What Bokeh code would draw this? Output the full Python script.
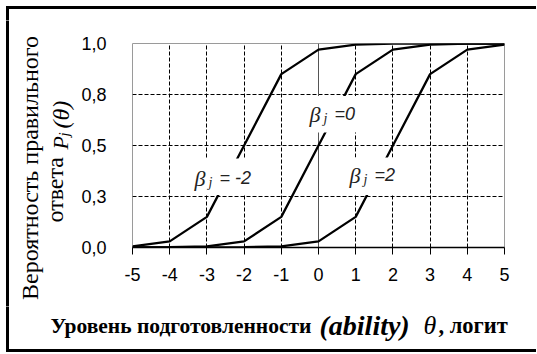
import math
from bokeh.plotting import figure
from bokeh.models import FixedTicker, Span, BoxAnnotation, Label, Range1d
from bokeh.layouts import column, row
from bokeh.embed import file_html
from bokeh.resources import INLINE

# ---- data ----
theta = [-5, -4, -3, -2, -1, 0, 1, 2, 3, 4, 5]
p_beta_m2 = [0.006, 0.03, 0.15, 0.50, 0.85, 0.97, 0.994, 0.999, 1.0, 1.0, 1.0]
p_beta_0 = [0.001, 0.002, 0.006, 0.03, 0.15, 0.50, 0.85, 0.97, 0.994, 0.999, 1.0]
p_beta_2 = [0.0, 0.0, 0.001, 0.002, 0.006, 0.03, 0.15, 0.50, 0.85, 0.97, 0.994]
x_ticks = [-5, -4, -3, -2, -1, 0, 1, 2, 3, 4, 5]
x_tick_labels = ["-5", "-4", "-3", "-2", "-1", "0", "1", "2", "3", "4", "5"]
y_ticks = [0.0, 0.25, 0.5, 0.75, 1.0]
y_tick_labels = ["0,0", "0,3", "0,5", "0,8", "1,0"]

# ---- layout (picture pixels; layout root sits at picture (1, 1)) ----
RX, RY = 1, 1
W = 536
HT = 20            # top strip
HM = 286           # middle row
HB = 46            # bottom strip
LW = 76            # left strip width
FL, FR, FT, FB = 133.0, 505.0, 44.0, 248.0   # plot frame in picture pixels

MX, MY = RX + LW, RY + HT          # main figure origin
BY = RY + HT + HM                  # bottom strip origin (y)

def dx(px):
    return -5 + (px - FL) / (FR - FL) * 10
def dy(py):
    return (FB - py) / (FB - FT)

def strip(w, h):
    f = figure(width=w, height=h, x_range=Range1d(0, w), y_range=Range1d(h, 0),
               x_axis_type=None, y_axis_type=None, output_backend="svg",
               toolbar_location=None, min_border=0, frame_align=False)
    f.outline_line_color = None
    f.background_fill_color = "white"
    f.border_fill_color = "white"
    return f

def rect(f, l, r, t, b):
    f.add_layout(BoxAnnotation(left=l, right=r, top=t, bottom=b, fill_color="black",
                               fill_alpha=1.0, line_color=None))

def lab(f, x, y, text, font, size, style="normal", angle=0.0, align="left", color="black"):
    f.add_layout(Label(x=x, y=y, text=text, text_font=font,
                       text_font_size=f"{size}px", text_font_style=style,
                       text_align=align, text_baseline="alphabetic",
                       angle=angle, text_color=color))

BL, BR = 6.5, 9.5   # outer border, picture x

# ---- main chart ----
WM = W - LW
p = figure(width=WM, height=HM, x_range=Range1d(-5, 5), y_range=Range1d(0, 1),
           output_backend="svg", toolbar_location=None, frame_align=False,
           min_border_left=int(FL - MX), min_border_right=int(WM - (FR - MX)),
           min_border_top=int(FT - MY), min_border_bottom=int(HM - (FB - MY)))
p.background_fill_color = "white"
p.border_fill_color = "white"
p.outline_line_color = "#9a9a9a"
p.outline_line_width = 1

xa = p.xaxis[0]
xa.ticker = FixedTicker(ticks=x_ticks)
xa.major_label_overrides = {t: s for t, s in zip(x_ticks, x_tick_labels)}
xa.major_tick_in = 0
xa.major_tick_out = 7
xa.minor_tick_out = 0
xa.minor_tick_in = 0
xa.axis_line_width = 1.5
xa.axis_line_color = "black"
xa.major_tick_line_color = "black"
xa.major_label_text_font = "Liberation Sans"
xa.major_label_text_font_size = "18px"
xa.major_label_text_color = "black"
xa.major_label_standoff = 13

ya = p.yaxis[0]
ya.ticker = FixedTicker(ticks=y_ticks)
ya.major_label_overrides = {t: s for t, s in zip(y_ticks, y_tick_labels)}
ya.axis_line_color = None
ya.major_tick_line_color = None
ya.minor_tick_line_color = None
ya.major_tick_out = 0
ya.major_tick_in = 0
ya.major_label_text_font = "Liberation Sans"
ya.major_label_text_font_size = "18px"
ya.major_label_text_color = "black"
ya.major_label_standoff = 26

p.xgrid.ticker = FixedTicker(ticks=x_ticks[1:-1])
p.ygrid.ticker = FixedTicker(ticks=y_ticks[1:-1])
for g in (p.xgrid[0], p.ygrid[0]):
    g.grid_line_color = "black"
    g.grid_line_dash = "4 2"
    g.grid_line_width = 1

p.add_layout(Span(location=0, dimension="height", line_color="#555555",
                  line_width=1, level="underlay"))

for ys in (p_beta_m2, p_beta_0, p_beta_2):
    p.line(theta, ys, line_color="black", line_width=2.3)

# white boxes behind the curve labels (picture pixels)
boxes = [(190, 262, 159, 195.5), (305, 368, 96.5, 133), (345, 408, 158, 195.5)]
for l, r, t, b in boxes:
    p.add_layout(BoxAnnotation(left=dx(l), right=dx(r), top=dy(t), bottom=dy(b),
                               fill_color="white", fill_alpha=1.0, line_color=None))

for bx, by, rest in ((195, 179, "= -2"), (310, 115, "=0"), (350, 176, "=2")):
    lab(p, dx(bx), dy(by), "β", "Liberation Serif", 22, "italic", color="#222222")
    lab(p, dx(bx + 14), dy(by + 4), "j", "Liberation Serif", 14, "italic", color="#222222")
    lab(p, dx(bx + 25), dy(by - 1), rest, "Liberation Sans", 18, "italic", color="#222222")

# ---- top strip (outer border) ----
top = strip(W, HT)
rect(top, BL - RX, W + 5, 6.5 - RY, 9.5 - RY)
rect(top, BL - RX, BR - RX, 6.5 - RY, HT + 1)

# ---- left strip (y title) ----
left = strip(LW, HM)
rect(left, BL - RX, BR - RX, -1, HM + 1)
half = math.pi / 2
def llab(px, py, *a, **k):
    lab(left, px - RX, py - MY, *a, **k)
llab(30, 168.5, "Вероятность правильного", "Liberation Serif", 24, "normal",
     angle=half, align="center")
llab(55, 223, "ответа", "Liberation Serif", 24, "normal", angle=half)
llab(61, 150, "P", "Liberation Serif", 22, "italic", angle=half)
llab(64, 137, "j", "Liberation Serif", 15, "italic", angle=half)
llab(61, 129, "(θ)", "Liberation Serif", 24, "italic", angle=half)

# ---- bottom strip (x title) ----
bot = strip(W, HB)
rect(bot, BL - RX, BR - RX, -1, 352.5 - BY)
rect(bot, BL - RX, W + 5, 349.5 - BY, 352.5 - BY)
def blab(px, py, *a, **k):
    lab(bot, px - RX, py - BY, *a, **k)
blab(51, 326, "Уровень подготовленности", "Liberation Serif", 21.5, "bold")
blab(320, 326, "(ability)", "Liberation Serif", 28, "bold italic")
blab(424, 326, "θ", "Liberation Serif", 26, "italic")
blab(439, 326, ", логит", "Liberation Serif", 22.5, "bold")

layout = column(top, row(left, p), bot)
open("out.html", "w").write(file_html(layout, INLINE))
